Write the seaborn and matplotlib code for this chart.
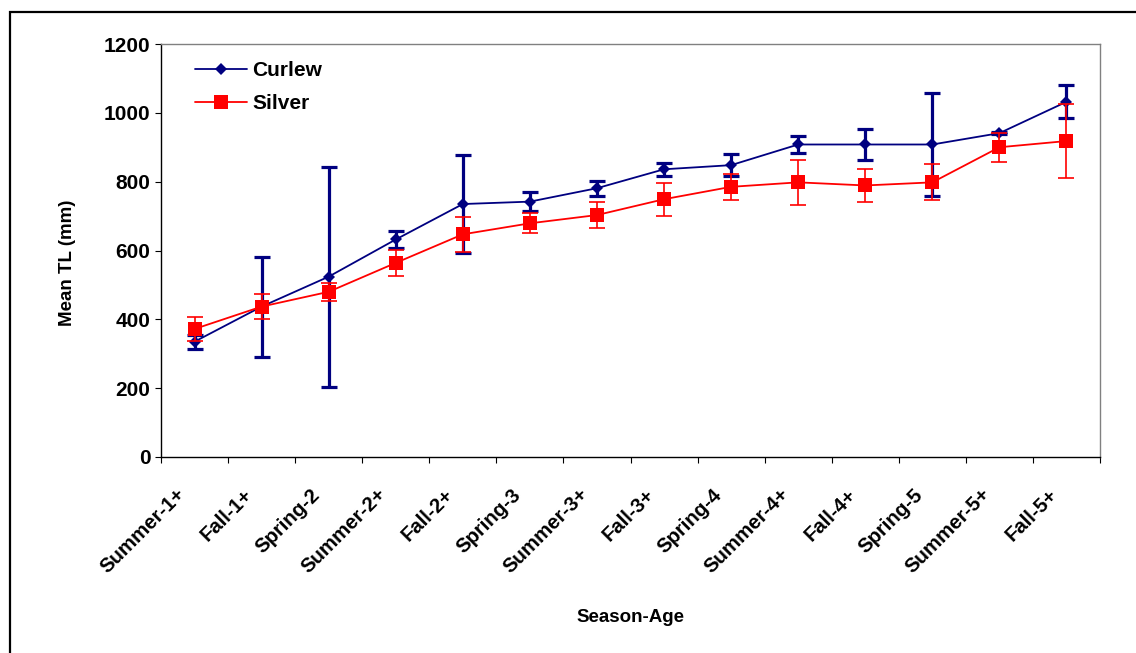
import numpy as np
import pandas as pd
import matplotlib
matplotlib.use("Agg")
import matplotlib.pyplot as plt
import matplotlib.transforms as mtransforms
from matplotlib.patches import Rectangle
from matplotlib.lines import Line2D
import seaborn as sns

# Season-age classes and mean total length (mm) with error half-widths
season_age = ["Summer-1+", "Fall-1+", "Spring-2", "Summer-2+", "Fall-2+", "Spring-3",
              "Summer-3+", "Fall-3+", "Spring-4", "Summer-4+", "Fall-4+", "Spring-5",
              "Summer-5+", "Fall-5+"]
curlew_mean = [335, 437, 524, 632, 735, 742, 781, 836, 848, 908, 908, 908, 941, 1032]
curlew_err = [20, 145, 320, 25, 142, 28, 22, 19, 31, 26, 46, 151, 3, 48]
silver_mean = [372, 437, 480, 564, 647, 679, 703, 749, 785, 798, 789, 798, 900, 918]
silver_err = [36, 37, 27, 37, 51, 29, 38, 48, 37, 65, 48, 52, 42, 107]

NAVY = "#000080"
RED = "#FF0000"

sns.set_style("white")
plt.rcParams["font.family"] = ["Liberation Sans", "DejaVu Sans"]
plt.rcParams["font.weight"] = "bold"
for key in ["text.color", "axes.labelcolor", "xtick.color", "ytick.color"]:
    plt.rcParams[key] = "black"

pos = np.arange(len(season_age))
df = pd.DataFrame({
    "pos": np.concatenate([pos, pos]),
    "mean": curlew_mean + silver_mean,
    "err": curlew_err + silver_err,
    "site": ["Curlew"] * len(pos) + ["Silver"] * len(pos),
})

W, H = 1136, 653
fig = plt.figure(figsize=(W / 100, H / 100), dpi=100)
ax = fig.add_axes([161 / W, 1 - 457 / H, (1100 - 161) / W, (457 - 44) / H])

cur = df[df.site == "Curlew"]
sil = df[df.site == "Silver"]

# Curlew: heavy navy error bars, diamond markers
ax.errorbar(cur["pos"], cur["mean"], yerr=cur["err"], fmt="none", ecolor=NAVY,
            elinewidth=2.3, capsize=6, capthick=2.3, zorder=2)
sns.lineplot(data=cur, x="pos", y="mean", ax=ax, color=NAVY, linewidth=1.3,
             marker="D", markersize=6.5, markeredgewidth=0, zorder=3, legend=False)

# Silver: thin red error bars, square markers
ax.errorbar(sil["pos"], sil["mean"], yerr=sil["err"], fmt="none", ecolor=RED,
            elinewidth=1.2, capsize=6, capthick=1.2, zorder=4)
sns.lineplot(data=sil, x="pos", y="mean", ax=ax, color=RED, linewidth=1.3,
             marker="s", markersize=10.5, markeredgewidth=0, zorder=5, legend=False)

ax.set_xlim(-0.5, len(season_age) - 0.5)
ax.set_ylim(0, 1200)
ax.set_yticks(np.arange(0, 1201, 200))
ax.tick_params(axis="y", which="major", direction="out", length=4.5, width=0.8,
               color="black", labelcolor="black", labelsize=15, pad=3, left=True)

# Category labels centered between boundary tick marks
ax.set_xticks(pos)
ax.set_xticklabels(season_age, rotation=45, ha="right", va="center",
                   rotation_mode="anchor", fontsize=14.7, fontweight="bold",
                   color="black")
ax.set_xticks(np.arange(-0.5, len(season_age), 1.0), minor=True)
ax.tick_params(axis="x", which="major", length=0, pad=25)
ax.tick_params(axis="x", which="minor", direction="out", length=4.5, width=0.8,
               color="black", bottom=True)
shift = mtransforms.ScaledTranslation(-12 / 100, 0, fig.dpi_scale_trans)
for lab in ax.get_xticklabels():
    lab.set_transform(lab.get_transform() + shift)
for lab in ax.get_yticklabels():
    lab.set_fontweight("bold")

ax.set_xlabel("")
ax.set_ylabel("")
for side in ["left", "bottom"]:
    ax.spines[side].set_color("black")
    ax.spines[side].set_linewidth(1.0)
for side in ["top", "right"]:
    ax.spines[side].set_color("#808080")
    ax.spines[side].set_linewidth(1.0)
    ax.spines[side].set_visible(True)

fig.text(630 / W, 1 - 618 / H, "Season-Age", ha="center", va="center",
         fontsize=13.5, fontweight="bold", color="black")
fig.text(68 / W, 1 - 263 / H, "Mean TL (mm)", ha="center", va="center",
         rotation=90, fontsize=13.5, fontweight="bold", color="black")

handles = [
    Line2D([], [], color=NAVY, lw=1.3, marker="D", markersize=6.5, markeredgewidth=0),
    Line2D([], [], color=RED, lw=1.3, marker="s", markersize=10.5, markeredgewidth=0),
]
leg = ax.legend(handles, ["Curlew", "Silver"], loc="upper left",
                bbox_to_anchor=(195 / W, 1 - 61 / H), bbox_transform=fig.transFigure,
                frameon=False, borderpad=0, borderaxespad=0, handlelength=2.5,
                handletextpad=0.25, labelspacing=0.68,
                prop={"size": 15, "weight": "bold"})
for t in leg.get_texts():
    t.set_color("black")

# Outer chart frame
fig.patches.append(Rectangle((10 / W, -0.05), 1.2, (1 - 12 / H) + 0.05,
                             transform=fig.transFigure, fill=False,
                             edgecolor="black", linewidth=1.6, clip_on=False))

fig.savefig("out.png", dpi=100)
